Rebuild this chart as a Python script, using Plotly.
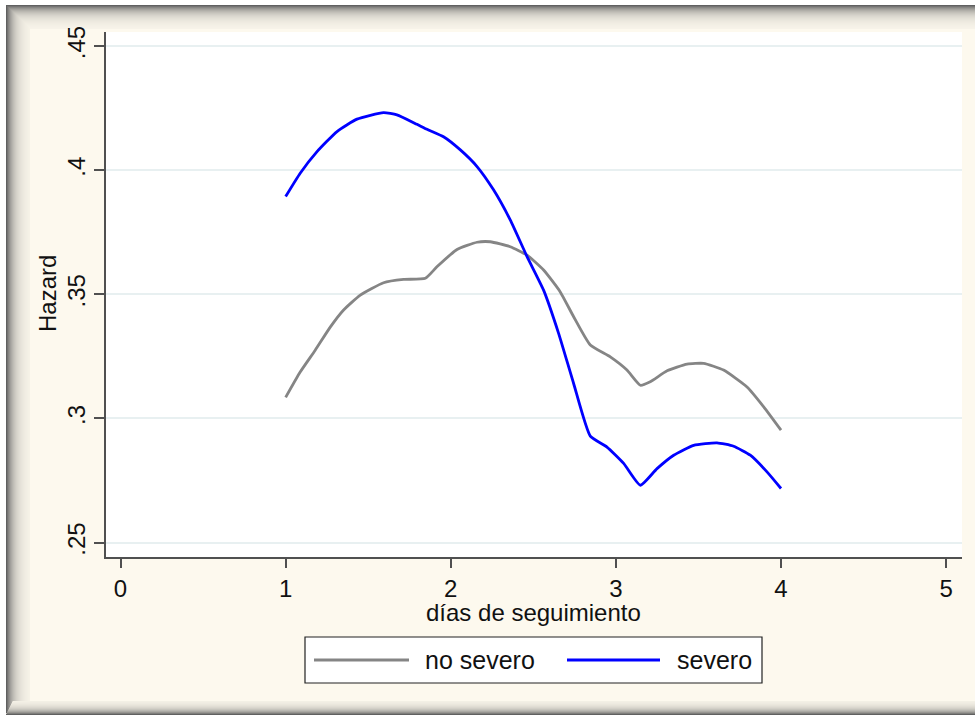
import math
import plotly.graph_objects as go

# Smoothed hazard estimates by follow-up day
dias_no_severo = [1.00, 1.088, 1.179, 1.270, 1.351, 1.452, 1.593, 1.714, 1.846, 1.916,
                  2.038, 2.159, 2.239, 2.360, 2.462, 2.562, 2.663, 2.744, 2.845, 2.966,
                  3.067, 3.148, 3.208, 3.310, 3.431, 3.531, 3.652, 3.794, 3.895, 4.00]
hazard_no_severo = [0.3085, 0.3187, 0.3275, 0.3368, 0.3437, 0.3497, 0.3547, 0.3560, 0.3565, 0.3611,
                    0.3681, 0.3710, 0.3712, 0.3692, 0.3658, 0.3598, 0.3510, 0.3410, 0.3296, 0.3248,
                    0.3195, 0.3134, 0.3148, 0.3192, 0.3219, 0.3222, 0.3195, 0.3127, 0.3047, 0.2953]

dias_severo = [1.00, 1.088, 1.190, 1.311, 1.432, 1.593, 1.674, 1.795, 1.856, 1.956,
               2.058, 2.159, 2.259, 2.360, 2.462, 2.562, 2.653, 2.744, 2.845, 2.946,
               3.047, 3.148, 3.249, 3.350, 3.471, 3.612, 3.713, 3.814, 3.915, 4.00]
hazard_severo = [0.3894, 0.3988, 0.4075, 0.4156, 0.4206, 0.4232, 0.4223, 0.4185, 0.4165, 0.4135,
                 0.4082, 0.4015, 0.3921, 0.3800, 0.3652, 0.3517, 0.3343, 0.3141, 0.2929, 0.2885,
                 0.2819, 0.2731, 0.2798, 0.2852, 0.2892, 0.2902, 0.2888, 0.2852, 0.2785, 0.2718]

series_names = ["no severo", "severo"]
series_colors = ["#858585", "#0000FF"]

x_ticks = [0, 1, 2, 3, 4, 5]
y_ticks = [0.25, 0.30, 0.35, 0.40, 0.45]
y_tick_labels = [".25", ".3", ".35", ".4", ".45"]

x_title = "días de seguimiento"
y_title = "Hazard"

# Page geometry (pixels)
W, H = 975, 715
ML, MR, MT, MB = 106, 13, 32, 158
PW, PH = W - ML - MR, H - MT - MB

CREAM = (253, 249, 238)
DARK = (96, 96, 96)
FONT = "Liberation Sans, Arial, sans-serif"


def fx(p):
    """pixel x -> paper x"""
    return (p - ML) / PW


def fy(p):
    """pixel y -> paper y"""
    return (H - MB - p) / PH


def mix(t):
    r = [round(DARK[i] + (CREAM[i] - DARK[i]) * t) for i in range(3)]
    return f"rgb({r[0]},{r[1]},{r[2]})"


fig = go.Figure()
for xs, ys, name, col in [(dias_no_severo, hazard_no_severo, series_names[0], series_colors[0]),
                          (dias_severo, hazard_severo, series_names[1], series_colors[1])]:
    fig.add_trace(go.Scatter(x=xs, y=ys, mode="lines", name=name,
                             line=dict(color=col, width=2.8, shape="spline", smoothing=0.5)))

shapes = []


# Shadowed frame around the graph region (drawn beneath the axes)
def band_rect(x0, y0, x1, y1, color):
    shapes.append(dict(type="rect", xref="paper", yref="paper",
                       x0=fx(x0), x1=fx(x1), y0=fy(y0), y1=fy(y1),
                       fillcolor=color, line=dict(width=0), layer="below"))


band_rect(0, 0, W, 5, "white")
band_rect(0, 0, 6, H, "white")

n_top = 24
for i in range(n_top):
    t = 1 - math.exp(-3.4 * i / n_top)
    band_rect(6 + i, 5 + i, W, 6 + i, mix(t))
n_left = 24
for i in range(n_left):
    t = 1 - math.exp(-3.2 * i / n_left)
    band_rect(6 + i, 5 + i, 7 + i, H - 2 - i * 0.5, mix(t))
n_bot = 14
for i in range(n_bot):
    t = 1 - math.exp(-3.0 * i / n_bot)
    band_rect(6 + i * 0.5, H - 1 - i, W, H - i, mix(t))

# Legend box
lx0, lx1, ly0, ly1 = 305, 762, 637, 683
shapes.append(dict(type="rect", xref="paper", yref="paper",
                   x0=fx(lx0), x1=fx(lx1), y0=fy(ly1), y1=fy(ly0),
                   fillcolor="white", line=dict(color="#222222", width=1.2)))
legend_rows = [(314, 409, 423), (567, 660, 675)]
annotations = []
for (s0, s1, tx), name, col in zip(legend_rows, series_names, series_colors):
    shapes.append(dict(type="line", xref="paper", yref="paper",
                       x0=fx(s0), x1=fx(s1), y0=fy(660), y1=fy(660),
                       line=dict(color=col, width=3.2)))
    annotations.append(dict(xref="paper", yref="paper", x=fx(tx), y=fy(660),
                            text=name, showarrow=False, xanchor="left", yanchor="middle",
                            font=dict(family=FONT, size=25, color="#111111")))

# Axis titles
annotations.append(dict(xref="paper", yref="paper", x=fx(533), y=fy(612),
                        text=x_title, showarrow=False, xanchor="center", yanchor="middle",
                        font=dict(family=FONT, size=24, color="#111111")))
annotations.append(dict(xref="paper", yref="paper", x=fx(47), y=fy(294), textangle=-90,
                        text=y_title, showarrow=False, xanchor="center", yanchor="middle",
                        font=dict(family=FONT, size=24, color="#111111")))

fig.update_layout(
    width=W, height=H,
    margin=dict(l=ML, r=MR, t=MT, b=MB, pad=0),
    paper_bgcolor=f"rgb{CREAM}",
    plot_bgcolor="white",
    showlegend=False,
    shapes=shapes,
    annotations=annotations,
    font=dict(family=FONT, size=25, color="#111111"),
)

fig.update_xaxes(
    range=[-0.088, 5.096], tickvals=x_ticks, ticktext=[str(v) for v in x_ticks],
    showgrid=False, zeroline=False,
    showline=True, linecolor="#505050", linewidth=1.5,
    ticks="outside", ticklen=9, tickwidth=1.5, tickcolor="#505050",
    tickfont=dict(family=FONT, size=24, color="#111111"),
)
fig.update_yaxes(
    range=[0.2442, 0.4557], tickvals=y_ticks, ticktext=y_tick_labels,
    tickangle=-90,
    showgrid=True, gridcolor="#E8F0F1", gridwidth=2,
    zeroline=False,
    showline=True, linecolor="#505050", linewidth=1.5,
    ticks="outside", ticklen=10, tickwidth=1.5, tickcolor="#505050",
    tickfont=dict(family=FONT, size=24, color="#111111"),
)

fig.write_html("out.html")
